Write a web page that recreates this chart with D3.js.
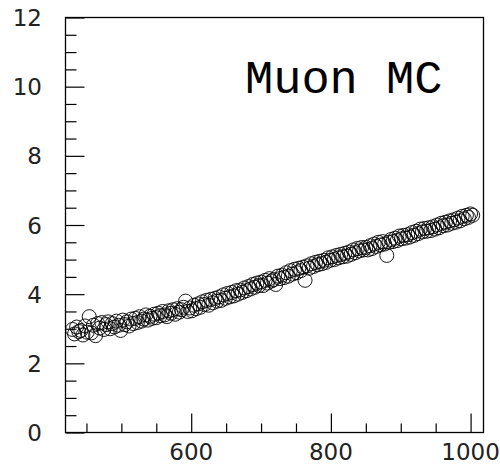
<!DOCTYPE html>
<html><head><meta charset="utf-8">
<script src="https://cdn.jsdelivr.net/npm/d3@7/dist/d3.min.js"></script>
<style>body{margin:0;background:#fff}svg{display:block}</style>
</head><body>
<script>
const xValues = [
430,433,436,439,442,445,448,451,454,457,
460,463,466,469,472,475,478,481,484,487,
490,493,496,499,502,505,508,511,514,517,
520,523,526,529,532,535,538,541,544,547,
550,553,556,559,562,565,568,571,574,577,
580,583,586,589,592,595,598,601,604,607,
610,613,616,619,622,625,628,631,634,637,
640,643,646,649,652,655,658,661,664,667,
670,673,676,679,682,685,688,691,694,697,
700,703,706,709,712,715,718,721,724,727,
730,733,736,739,742,745,748,751,754,757,
760,763,766,769,772,775,778,781,784,787,
790,793,796,799,802,805,808,811,814,817,
820,823,826,829,832,835,838,841,844,847,
850,853,856,859,862,865,868,871,874,877,
880,883,886,889,892,895,898,901,904,907,
910,913,916,919,922,925,928,931,934,937,
940,943,946,949,952,955,958,961,964,967,
970,973,976,979,982,985,988,991,994,997,
1000,1003];
const yValues = [
2.98,2.85,3.05,2.92,2.95,2.82,3.08,2.90,3.35,2.88,
3.10,2.80,3.15,3.02,3.18,2.98,3.12,3.20,3.00,3.15,
3.05,3.22,3.10,2.95,3.25,3.12,3.20,3.08,3.28,3.15,
3.30,3.18,3.35,3.22,3.28,3.40,3.25,3.36,3.30,3.42,
3.32,3.45,3.38,3.50,3.40,3.35,3.52,3.45,3.55,3.42,
3.58,3.48,3.55,3.62,3.80,3.50,3.60,3.52,3.68,3.58,
3.72,3.62,3.78,3.70,3.82,3.68,3.85,3.75,3.88,3.80,
3.92,3.82,3.98,3.88,4.02,3.92,4.05,3.95,4.10,4.00,
4.12,4.05,4.18,4.10,4.22,4.15,4.28,4.20,4.32,4.25,
4.35,4.25,4.40,4.32,4.45,4.38,4.42,4.28,4.52,4.45,
4.55,4.48,4.62,4.52,4.68,4.58,4.72,4.62,4.75,4.68,
4.78,4.40,4.82,4.75,4.88,4.80,4.92,4.85,4.95,4.88,
4.98,4.92,5.05,4.98,5.08,5.00,5.12,5.05,5.15,5.08,
5.18,5.10,5.22,5.15,5.28,5.20,5.32,5.25,5.35,5.28,
5.35,5.28,5.40,5.32,5.45,5.38,5.50,5.42,5.52,5.45,
5.12,5.50,5.58,5.52,5.62,5.55,5.68,5.60,5.70,5.62,
5.72,5.65,5.78,5.70,5.82,5.75,5.88,5.80,5.90,5.82,
5.92,5.84,5.95,5.88,6.00,5.92,6.05,5.98,6.08,6.00,
6.12,6.05,6.15,6.08,6.20,6.12,6.25,6.18,6.28,6.22,
6.32,6.28];
const xMajorTicks = [600, 800, 1000];
const xMinorTicks = [450,500,550,650,700,750,850,900,950];
const yMajorTicks = [0,2,4,6,8,10,12];
const yMinorTicks = [0.5,1,1.5,2.5,3,3.5,4.5,5,5.5,6.5,7,7.5,8.5,9,9.5,10.5,11,11.5];
const title = "Muon MC";

const W = 500, H = 465;
const L = 65.5, R = 483.5, T = 17.5, B = 432.5;
const svg = d3.select("body").append("svg").attr("width", W).attr("height", H);
const x = d3.scaleLinear().domain([420, 1018.5]).range([L, R]);
const y = d3.scaleLinear().domain([0, 12]).range([B, T]);

const lab = "DejaVu Sans, sans-serif";

// points
svg.append("g").selectAll("circle").data(xValues.map((v,i)=>[v,yValues[i]])).join("circle")
  .attr("cx", d=>x(d[0])).attr("cy", d=>y(d[1])).attr("r", 7)
  .attr("fill","none").attr("stroke","#000").attr("stroke-width",0.9);

// x axis ticks (inward)
const xAxisMajor = d3.axisTop(x).tickValues(xMajorTicks).tickSize(19).tickFormat("");
const xAxisMinor = d3.axisTop(x).tickValues(xMinorTicks).tickSize(9).tickFormat("");
const gx = svg.append("g").attr("transform", `translate(0,${B})`).call(xAxisMajor);
const gx2 = svg.append("g").attr("transform", `translate(0,${B})`).call(xAxisMinor);
[gx, gx2].forEach(g=>{ g.select(".domain").remove(); g.selectAll("line").attr("stroke","#000").attr("stroke-width",1.2); });

const yAxisMajor = d3.axisRight(y).tickValues(yMajorTicks).tickSize(19).tickFormat("");
const yAxisMinor = d3.axisRight(y).tickValues(yMinorTicks).tickSize(11).tickFormat("");
const gy = svg.append("g").attr("transform", `translate(${L},0)`).call(yAxisMajor);
const gy2 = svg.append("g").attr("transform", `translate(${L},0)`).call(yAxisMinor);
[gy, gy2].forEach(g=>{ g.select(".domain").remove(); g.selectAll("line").attr("stroke","#000").attr("stroke-width",1.2); });

// labels
svg.append("g").selectAll("text").data(xMajorTicks).join("text")
  .attr("x", d=>x(d)).attr("y", 460).attr("text-anchor","middle")
  .attr("font-family", lab).attr("font-size", 23).attr("fill","#222").text(d=>d);
svg.append("g").selectAll("text").data(yMajorTicks).join("text")
  .attr("x", 42).attr("y", d=>y(d)+8.5).attr("text-anchor","end")
  .attr("font-family", lab).attr("font-size", 23).attr("fill","#222").text(d=>d);

// frame
svg.append("rect").attr("x", L).attr("y", T).attr("width", R-L).attr("height", B-T)
  .attr("fill","none").attr("stroke","#000").attr("stroke-width",1.3);

svg.append("text").attr("x", 245).attr("y", 93)
  .attr("font-family","Liberation Mono, monospace").attr("font-size", 47)
  .attr("fill","#000").text(title);
</script>
</body></html>
